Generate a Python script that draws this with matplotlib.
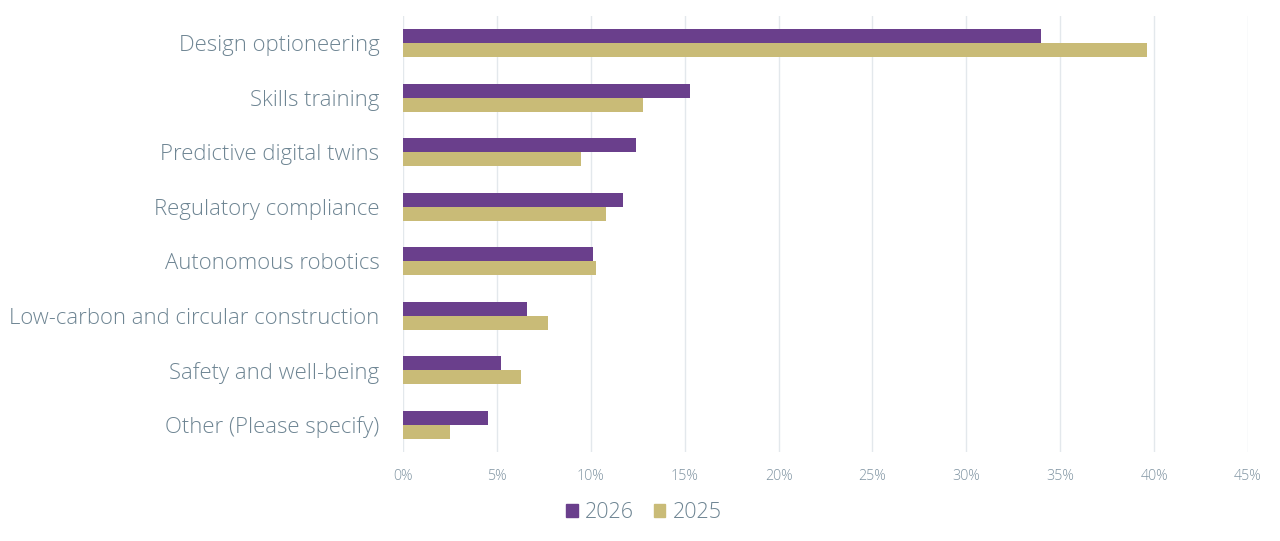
import matplotlib
matplotlib.use("Agg")
import matplotlib.pyplot as plt
import numpy as np
from matplotlib.patches import Patch

categories = ["Design optioneering", "Skills training", "Predictive digital twins",
              "Regulatory compliance", "Autonomous robotics",
              "Low-carbon and circular construction", "Safety and well-being",
              "Other (Please specify)"]
values_2026 = [34.0, 15.3, 12.4, 11.7, 10.1, 6.6, 5.2, 4.5]
values_2025 = [39.6, 12.8, 9.5, 10.8, 10.3, 7.7, 6.3, 2.5]
series_names = ["2026", "2025"]
tick_values = [0, 5, 10, 15, 20, 25, 30, 35, 40, 45]
tick_labels = [f"{t}%" for t in tick_values]

c26 = "#6A3F8C"
c25 = "#C9BB77"
txt = "#6E8593"
tick_txt = "#7F93A1"

plt.rcParams['font.family'] = ['Open Sans', 'DejaVu Sans']

fig = plt.figure(figsize=(12.8, 5.41), dpi=100)
ax = fig.add_axes([403/1280, 89/541, 845/1280, 436/541])

y = np.arange(len(categories))
h = 0.257
ax.barh(y - h/2, values_2026, height=h, color=c26, label=series_names[0], zorder=3)
ax.barh(y + h/2, values_2025, height=h, color=c25, label=series_names[1], zorder=3)

ax.set_ylim(len(categories) - 0.5, -0.5)
ax.set_xlim(0, 45)
ax.set_xticks(tick_values)
ax.set_xticklabels(tick_labels, fontsize=10.3, color=tick_txt, fontweight='light')
ax.set_yticks(y)
ax.set_yticklabels(categories, fontsize=15.9, color=txt, fontweight='light')
ax.tick_params(axis='both', length=0)
ax.tick_params(axis='x', pad=12)
ax.tick_params(axis='y', pad=17)
ax.grid(axis='x', color="#E3E8EC", linewidth=1, zorder=0)
for s in ax.spines.values():
    s.set_visible(False)

handles = [Patch(color=c26, label=series_names[0]), Patch(color=c25, label=series_names[1])]
leg = fig.legend(handles=handles, loc='center', bbox_to_anchor=(644/1280, 1 - 513/541), ncol=2,
                 frameon=False, handlelength=0.55, handleheight=0.55,
                 handletextpad=0.35, columnspacing=0.9,
                 prop={'size': 15.5, 'weight': 'light'})
for t in leg.get_texts():
    t.set_color(txt)

fig.savefig("out.png", dpi=100)
